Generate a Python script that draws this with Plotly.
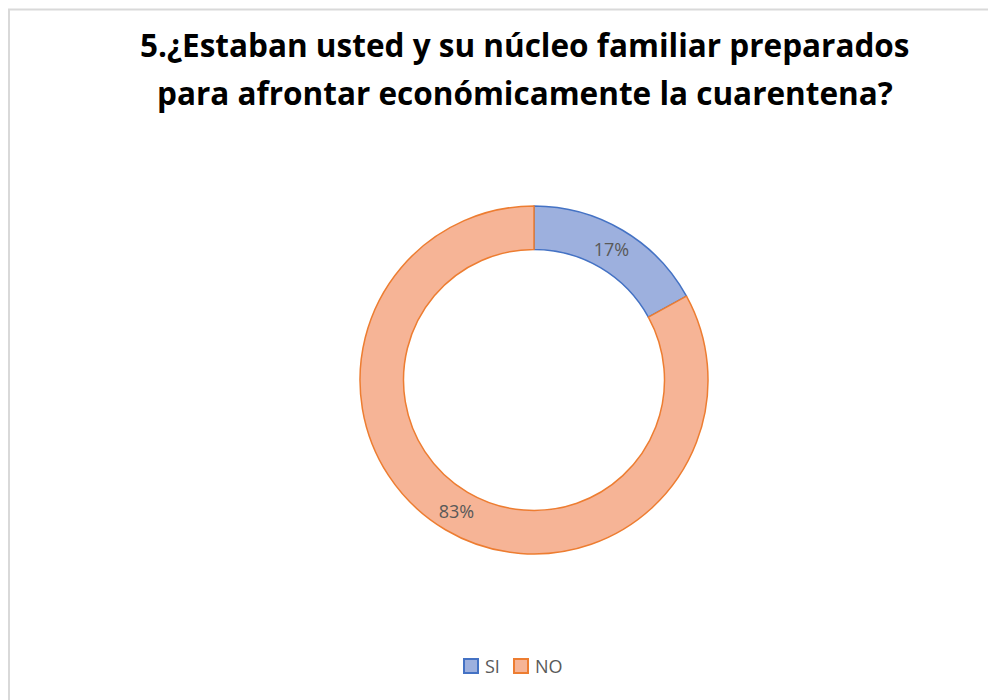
import plotly.graph_objects as go

# Respuestas de la encuesta
labels = ['SI', 'NO']
values = [17, 83]

title_lines = ['5.¿Estaban usted y su núcleo familiar preparados',
               'para afrontar económicamente la cuarentena?']

fill_colors = ['#9DB0DE', '#F6B496']
line_colors = ['#4472C4', '#ED7D31']

# page body has an 8px margin, so the figure is a bit smaller than the window
W, H = 988, 692
cx, cy, r = 526, 372, 174  # pie centre/radius in figure pixels (from top-left)

fig = go.Figure()

fig.add_trace(go.Pie(
    labels=labels,
    values=values,
    hole=0.75,
    sort=False,
    direction='clockwise',
    rotation=0,
    textinfo='percent',
    texttemplate='%{percent:.0%}',
    textposition='inside',
    insidetextorientation='horizontal',
    textfont=dict(family='Open Sans', size=18, color='#595959'),
    marker=dict(colors=fill_colors, line=dict(color=line_colors, width=1.5)),
    domain=dict(x=[(cx - r) / W, (cx + r) / W],
                y=[(H - cy - r) / H, (H - cy + r) / H]),
    showlegend=False,
))

annotations = []
for line, ypix in zip(title_lines, [37, 84]):
    annotations.append(dict(
        text='<b>' + line + '</b>',
        xref='paper', yref='paper',
        x=517 / W, y=1 - ypix / H,
        xanchor='center', yanchor='middle',
        showarrow=False,
        font=dict(family='Open Sans', size=31.5, color='#000000'),
    ))

shapes = [dict(
    type='rect', xref='paper', yref='paper',
    x0=1 / W, x1=1.02, y0=-0.02, y1=1 - 1.5 / H,
    line=dict(color='#D9D9D9', width=2),
)]

# legend drawn by hand so the entries sit close together like the original
leg_x0, leg_step, leg_y = 456, 50, 658
for i, lab in enumerate(labels):
    x = leg_x0 + i * leg_step
    shapes.append(dict(
        type='rect', xref='paper', yref='paper',
        x0=x / W, x1=(x + 14) / W,
        y0=1 - (leg_y + 7) / H, y1=1 - (leg_y - 7) / H,
        fillcolor=fill_colors[i],
        line=dict(color=line_colors[i], width=2),
    ))
    annotations.append(dict(
        text=lab, xref='paper', yref='paper',
        x=(x + 19) / W, y=1 - leg_y / H,
        xanchor='left', yanchor='middle', showarrow=False,
        font=dict(family='Open Sans', size=18, color='#595959'),
    ))

fig.update_layout(
    width=W, height=H,
    margin=dict(l=0, r=0, t=0, b=0),
    paper_bgcolor='white',
    annotations=annotations,
    shapes=shapes,
    showlegend=False,
)

fig.write_html('out.html')
